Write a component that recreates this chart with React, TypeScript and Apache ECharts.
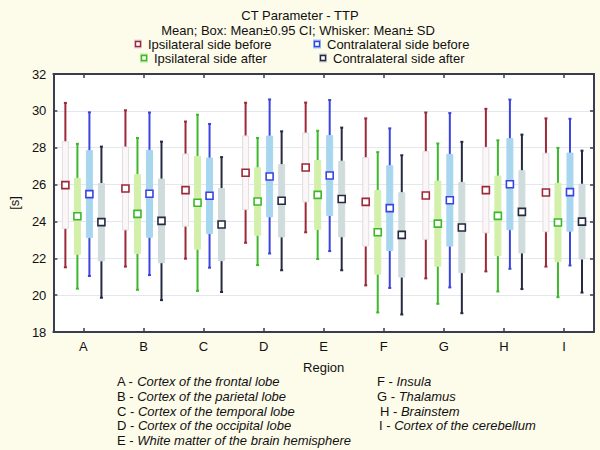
import React, { useEffect, useRef } from "react";
import * as echarts from "echarts";

const categories = ["A", "B", "C", "D", "E", "F", "G", "H", "I"];
const yTicks = { min: 18, max: 32, interval: 2 };

const ipsiBeforeMean = [25.97, 25.79, 25.7, 26.64, 26.93, 25.06, 25.41, 25.7, 25.57];
const ipsiBeforeCI = [2.36, 2.25, 1.96, 2.0, 1.87, 2.4, 2.38, 2.32, 2.13];
const ipsiBeforeSD = [4.46, 4.24, 3.72, 3.8, 3.52, 4.53, 4.5, 4.41, 4.02];

const ipsiAfterMean = [24.28, 24.41, 25.01, 25.08, 25.44, 23.41, 23.88, 24.3, 23.94];
const ipsiAfterCI = [2.06, 2.14, 2.52, 1.83, 1.87, 2.27, 2.31, 2.16, 2.13];
const ipsiAfterSD = [3.93, 4.12, 4.78, 3.45, 3.48, 4.35, 4.35, 4.1, 4.05];

const contraBeforeMean = [25.48, 25.5, 25.39, 26.44, 26.49, 24.72, 25.15, 26.02, 25.59];
const contraBeforeCI = [2.36, 2.36, 2.05, 2.19, 2.17, 2.3, 2.49, 2.47, 2.12];
const contraBeforeSD = [4.44, 4.41, 3.9, 4.18, 4.1, 4.33, 4.73, 4.59, 3.98];

const contraAfterMean = [23.96, 24.03, 23.83, 25.12, 25.22, 23.27, 23.67, 24.52, 23.99];
const contraAfterCI = [2.1, 2.27, 1.96, 1.96, 2.05, 2.29, 2.45, 2.23, 2.03];
const contraAfterSD = [4.1, 4.3, 3.66, 3.77, 3.87, 4.32, 4.65, 4.19, 3.85];

const seriesNames = [
  "Ipsilateral side before",
  "Ipsilateral side after",
  "Contralateral side before",
  "Contralateral side after",
];

const regionNames = [
  ["A", "Cortex of the frontal lobe"],
  ["B", "Cortex of the parietal lobe"],
  ["C", "Cortex of the temporal lobe"],
  ["D", "Cortex of the occipital lobe"],
  ["E", "White matter of the brain hemisphere"],
  ["F", "Insula"],
  ["G", "Thalamus"],
  ["H", "Brainstem"],
  ["I", "Cortex of the cerebellum"],
];

const FONT = "'Liberation Sans', Arial, sans-serif";
const AXIS = "#3a3d52";

const styles = [
  { line: "#9c2838", box: "#fbf7f8", boxBorder: "#e4dcdf", legendBox: "#e2d4dc" },
  { line: "#3cb82a", box: "#d2f0aa", boxBorder: "#d2f0aa", legendBox: "#bfe9a0" },
  { line: "#3a44e0", box: "#a8d6ee", boxBorder: "#a8d6ee", legendBox: "#9cc8f0" },
  { line: "#262a40", box: "#d0dcdc", boxBorder: "#d0dcdc", legendBox: "#c6ced6" },
];

const groups = [
  [ipsiBeforeMean, ipsiBeforeCI, ipsiBeforeSD],
  [ipsiAfterMean, ipsiAfterCI, ipsiAfterSD],
  [contraBeforeMean, contraBeforeCI, contraBeforeSD],
  [contraAfterMean, contraAfterCI, contraAfterSD],
];

function makeSeries(k: number) {
  const [m, ci, sd] = groups[k];
  const st = styles[k];
  return {
    type: "custom",
    name: seriesNames[k],
    xAxisIndex: 0,
    yAxisIndex: 0,
    encode: { x: 0, y: 1 },
    data: categories.map((_, i) => [i, m[i], ci[i], sd[i]]),
    renderItem: (params: any, api: any) => {
      const idx = api.value(0);
      const mean = api.value(1);
      const c = api.value(2);
      const s = api.value(3);
      const band = api.size([1, 0])[0];
      const x = api.coord([idx, mean])[0] + (k - 1.5) * 0.2 * band;
      const yM = api.coord([idx, mean])[1];
      const ySdT = api.coord([idx, mean + s])[1];
      const ySdB = api.coord([idx, mean - s])[1];
      const yCiT = api.coord([idx, mean + c])[1];
      const yCiB = api.coord([idx, mean - c])[1];
      return {
        type: "group",
        children: [
          {
            type: "line",
            shape: { x1: x, y1: ySdT, x2: x, y2: ySdB },
            style: { stroke: st.line, lineWidth: 2 },
          },
          {
            type: "line",
            shape: { x1: x - 1.5, y1: ySdT, x2: x + 1.5, y2: ySdT },
            style: { stroke: st.line, lineWidth: 2 },
          },
          {
            type: "line",
            shape: { x1: x - 1.5, y1: ySdB, x2: x + 1.5, y2: ySdB },
            style: { stroke: st.line, lineWidth: 2 },
          },
          {
            type: "rect",
            shape: { x: x - 3, y: yCiT, width: 6, height: yCiB - yCiT },
            style: { fill: st.box, stroke: st.boxBorder, lineWidth: 1 },
          },
          {
            type: "rect",
            shape: { x: x - 3.5, y: yM - 3.5, width: 7, height: 7 },
            style: { fill: "#ffffff", stroke: st.line, lineWidth: 1.6 },
          },
        ],
      };
    },
  };
}

const legendPos = [
  { ix: 134, tx: 148, y: 44 },
  { ix: 140, tx: 154, y: 58 },
  { ix: 313, tx: 327, y: 44 },
  { ix: 319, tx: 333, y: 58 },
];

function legendGraphics() {
  const out: any[] = [];
  legendPos.forEach((p, k) => {
    out.push({
      type: "rect",
      shape: { x: p.ix, y: p.y - 4.5, width: 8, height: 9 },
      style: { fill: styles[k].legendBox },
    });
    out.push({
      type: "rect",
      shape: { x: p.ix + 1.5, y: p.y - 2.5, width: 5, height: 5 },
      style: { fill: "#ffffff", stroke: styles[k].line, lineWidth: 1.4 },
    });
    out.push({
      type: "text",
      x: p.tx,
      y: p.y,
      style: {
        text: seriesNames[k],
        font: `13px ${FONT}`,
        fill: "#111",
        verticalAlign: "middle",
      },
    });
  });
  return out;
}

function regionGraphics() {
  const out: any[] = [];
  const leftY = [381, 396, 411, 425, 440];
  const rightX = [377, 377, 380, 379];
  regionNames.forEach(([code, name], i) => {
    const left = i < 5;
    out.push({
      type: "text",
      x: left ? 117 : rightX[i - 5],
      y: left ? leftY[i] : leftY[i - 5],
      style: {
        text: `{n|${code} - }{i|${name}}`,
        verticalAlign: "middle",
        rich: {
          n: { fontSize: 13, fontFamily: FONT, fill: "#111", color: "#111" },
          i: { fontSize: 13, fontFamily: FONT, fontStyle: "italic", fill: "#111", color: "#111" },
        },
      },
    });
  });
  return out;
}

export default function App() {
  const ref = useRef<HTMLDivElement>(null);
  useEffect(() => {
    if (!ref.current) return;
    const chart = echarts.init(ref.current, undefined, { renderer: "svg" });
    const axisLine = { show: true, lineStyle: { color: AXIS, width: 2 } };
    const tick = { show: true, inside: true, length: 4, lineStyle: { color: AXIS, width: 1.5 } };
    chart.setOption({
      animation: false,
      backgroundColor: "#fdfbea",
      textStyle: { fontFamily: FONT },
      grid: {
        left: 46,
        right: 6,
        top: 74,
        bottom: 118,
        show: true,
        backgroundColor: "#ffffff",
        borderWidth: 0,
      },
      xAxis: [
        {
          type: "category",
          data: categories,
          position: "bottom",
          boundaryGap: true,
          axisLine,
          axisTick: { ...tick, alignWithLabel: true },
          axisLabel: { color: "#111", fontSize: 13, margin: 8, fontFamily: FONT },
          name: "Region",
          nameLocation: "middle",
          nameGap: 29,
          nameTextStyle: { color: "#111", fontSize: 13, fontFamily: FONT },
        },
        {
          type: "category",
          data: categories,
          position: "top",
          boundaryGap: true,
          axisLine,
          axisTick: { ...tick, alignWithLabel: true },
          axisLabel: { show: false },
        },
      ],
      yAxis: [
        {
          type: "value",
          min: yTicks.min,
          max: yTicks.max,
          interval: yTicks.interval,
          axisLine,
          axisTick: tick,
          axisLabel: { color: "#111", fontSize: 13, margin: 7, fontFamily: FONT },
          splitLine: { show: true, lineStyle: { color: "#e4e7ee", width: 1 } },
          name: "[s]",
          nameLocation: "middle",
          nameGap: 30,
          nameTextStyle: { color: "#111", fontSize: 13, fontFamily: FONT },
        },
        {
          type: "value",
          min: yTicks.min,
          max: yTicks.max,
          interval: yTicks.interval,
          position: "right",
          axisLine,
          axisTick: tick,
          axisLabel: { show: false },
          splitLine: { show: false },
        },
      ],
      graphic: [
        {
          type: "text",
          x: 300,
          y: 15,
          style: {
            text: "CT Parameter - TTP",
            font: `13px ${FONT}`,
            fill: "#111",
            align: "center",
            verticalAlign: "middle",
          },
        },
        {
          type: "text",
          x: 298,
          y: 30,
          style: {
            text: "Mean; Box: Mean±0.95 CI; Whisker: Mean± SD",
            font: `13px ${FONT}`,
            fill: "#111",
            align: "center",
            verticalAlign: "middle",
          },
        },
        ...legendGraphics(),
        ...regionGraphics(),
      ],
      series: [0, 1, 2, 3].map((k) => makeSeries(k)),
    });
    return () => chart.dispose();
  }, []);
  return (
    <div
      ref={ref}
      style={{ position: "fixed", left: 0, top: 0, width: 600, height: 450 }}
    />
  );
}
